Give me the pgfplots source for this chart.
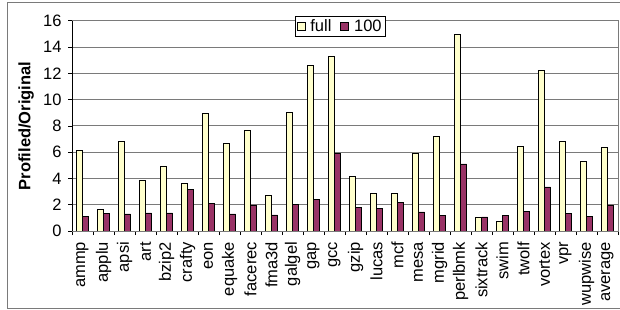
\documentclass[border=0pt]{standalone}
\usepackage{pgfplots}
\pgfplotsset{compat=1.18}
\usepackage{fontspec}
\setmainfont{Liberation Sans}
\definecolor{fullc}{HTML}{FFFFCC}
\definecolor{hundc}{HTML}{993366}
\definecolor{gridc}{HTML}{7A7A7A}
\begin{document}
\begin{tikzpicture}[x=1pt,y=1pt]
\useasboundingbox (0,0) rectangle (620,310);
\draw[gridc,line width=0.8pt] (7,308) -- (620,308);
\draw[gridc,line width=0.8pt] (7,2) -- (620,2);
\draw[gridc,line width=0.8pt] (7,2) -- (7,308);
\begin{axis}[
  at={(72pt,79pt)}, anchor=south west,
  scale only axis, width=546pt, height=210.3pt,
  ymin=0, ymax=16, ytick={0,2,...,16},
  xmin=-0.5, xmax=25.5,
  xtick={0,...,25},
  xticklabels={\hspace{8pt}ammp,applu,apsi,art,bzip2,crafty,eon,equake,facerec,fma3d,galgel,gap,gcc,gzip,lucas,mcf,mesa,mgrid,perlbmk,sixtrack,swim,twolf,vortex,vpr,wupwise,average},
  x tick label style={rotate=90, anchor=east, xshift=-3.5pt, font=\fontsize{16.5}{17}\selectfont},
  y tick label style={font=\fontsize{16.5}{17}\selectfont, xshift=-3pt},
  /pgf/number format/assume math mode=true,
  minor xtick={-0.5,0.5,...,25.5},
  major x tick style={draw=none},
  minor x tick style={black, line width=0.6pt},
  y tick style={black, line width=0.6pt},
  tick align=outside,
  minor tick length=4pt, major tick length=4pt,
  ytick pos=left, xtick pos=bottom,
  ymajorgrids, grid style={gridc, line width=0.7pt},
  axis line style={gridc, line width=0.8pt},
  ylabel={\bfseries Profiled/Original},
  ylabel style={font=\fontsize{16.5}{17}\selectfont, at={(axis description cs:-0.0842,0.5)}, anchor=center},
  ybar, bar width=6pt,
  legend columns=2,
  legend style={at={(rel axis cs:0.4084,1.0223)}, anchor=north west, draw=black, fill=white,
     font=\fontsize{16.5}{17}\selectfont, inner sep=1.5pt, line width=0.6pt,
     /tikz/every odd column/.append style={column sep=3pt},
     /tikz/every even column/.append style={column sep=7pt}},
  legend image code/.code={\draw[#1, line width=0.6pt] (0pt,-3.5pt) rectangle (8pt,4.5pt);},
]
\addplot[fill=fullc, draw=black, line width=0.6pt, bar shift=-3pt] coordinates {
(0,6.14) (1,1.62) (2,6.82) (3,3.83) (4,4.95) (5,3.65) (6,8.93) (7,6.64) (8,7.69) (9,2.69)
(10,9.03) (11,12.57) (12,13.32) (13,4.17) (14,2.85) (15,2.85) (16,5.94) (17,7.21) (18,14.93)
(19,1.07) (20,0.76) (21,6.43) (22,12.24) (23,6.83) (24,5.31) (25,6.35)};
\addplot[fill=hundc, draw=black, line width=0.6pt, bar shift=3pt] coordinates {
(0,1.14) (1,1.32) (2,1.30) (3,1.37) (4,1.37) (5,3.14) (6,2.13) (7,1.30) (8,1.98) (9,1.22)
(10,2.05) (11,2.38) (12,5.89) (13,1.80) (14,1.73) (15,2.20) (16,1.45) (17,1.17) (18,5.10)
(19,1.07) (20,1.19) (21,1.52) (22,3.35) (23,1.35) (24,1.12) (25,1.98)};
\legend{full,100}
\draw[black, line width=0.8pt] (rel axis cs:0,0) -- (rel axis cs:0,1);
\draw[black, line width=0.8pt] (rel axis cs:0,0) -- (rel axis cs:1,0);
\end{axis}
\end{tikzpicture}
\end{document}
